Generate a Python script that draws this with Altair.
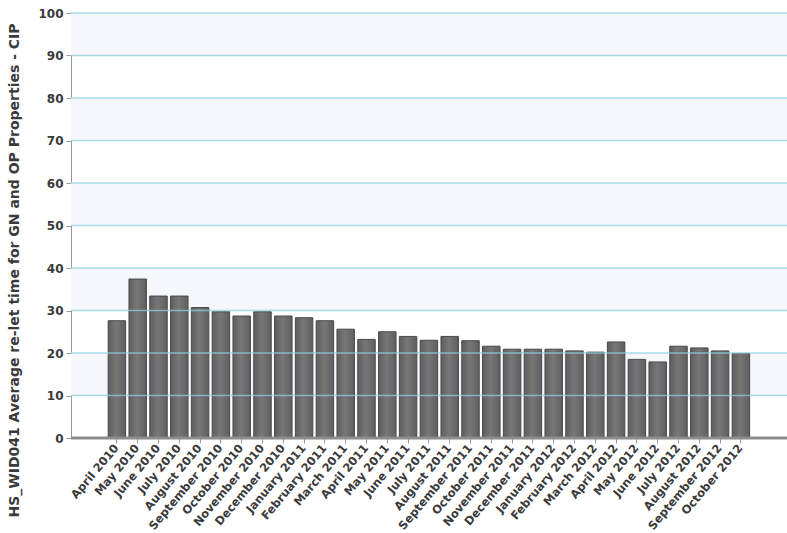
import altair as alt
import pandas as pd

# Monthly average re-let time (days), April 2010 - October 2012
months = [
    "April 2010", "May 2010", "June 2010", "July 2010", "August 2010",
    "September 2010", "October 2010", "November 2010", "December 2010",
    "January 2011", "February 2011", "March 2011", "April 2011", "May 2011",
    "June 2011", "July 2011", "August 2011", "September 2011", "October 2011",
    "November 2011", "December 2011", "January 2012", "February 2012",
    "March 2012", "April 2012", "May 2012", "June 2012", "July 2012",
    "August 2012", "September 2012", "October 2012",
]
relet_days = [
    27.6, 37.4, 33.4, 33.4, 30.7, 29.7, 28.7, 29.7, 28.7, 28.3, 27.6,
    25.6, 23.2, 25.0, 23.9, 23.0, 23.9, 22.9, 21.6, 20.9, 20.9, 20.9,
    20.5, 20.2, 22.6, 18.5, 17.9, 21.6, 21.2, 20.5, 19.9,
]
y_ticks = [0, 10, 20, 30, 40, 50, 60, 70, 80, 90, 100]

bars_df = pd.DataFrame({"month": months, "days": relet_days})
# alternate shaded bands: 10-20, 30-40, 50-60, 70-80, 90-100
bands_df = pd.DataFrame(
    [{"lo": lo, "hi": hi} for lo, hi in zip(y_ticks[:-1], y_ticks[1:]) if (lo // 10) % 2 == 1]
)
grid_df = pd.DataFrame({"v": y_ticks[1:]})

FONT = "DejaVu Sans"
PLOT_W = 716
y_scale = alt.Scale(domain=[0, 100], nice=False)

bands = alt.Chart(bands_df).mark_rect(color="#f5f7fd").encode(
    y=alt.Y("lo:Q", scale=y_scale),
    y2="hi:Q",
    x=alt.value(0),
    x2=alt.value(PLOT_W),
)

bars = alt.Chart(bars_df).mark_bar(
    color=alt.Gradient(
        gradient="linear",
        x1=0, x2=1, y1=0, y2=0,
        stops=[
            alt.GradientStop(color="#5e5e5e", offset=0),
            alt.GradientStop(color="#777777", offset=0.45),
            alt.GradientStop(color="#5f5f5f", offset=1),
        ],
    ),
    stroke="#4a4a4a",
    strokeWidth=1,
).encode(
    x=alt.X(
        "month:N",
        sort=months,
        # bars occupy the middle of the wide plot, leaving empty margins both sides
        scale=alt.Scale(paddingInner=0.16, paddingOuter=0.08, range=[35.5, 680.3]),
        axis=alt.Axis(
            title=None,
            labelAngle=-50,
            labelAlign="right",
            labelBaseline="middle",
            labelFont=FONT,
            labelFontWeight="bold",
            labelFontSize=11.5,
            labelColor="#3a3a3a",
            labelPadding=3,
            domain=False,
            tickColor="#9a9a9a",
            tickSize=5,
            labelOverlap=False,
        ),
    ),
    y=alt.Y(
        "days:Q",
        scale=y_scale,
        axis=alt.Axis(
            values=y_ticks,
            grid=False,
            title="HS_WID041 Average re-let time for GN and OP Properties - CIP",
            titleFont=FONT,
            titleFontWeight="bold",
            titleFontSize=14,
            titleColor="#3a3a3a",
            titleX=-50,
            titleY=257,
            titleAngle=270,
            labelFont=FONT,
            labelFontWeight="bold",
            labelFontSize=12,
            labelColor="#3a3a3a",
            labelPadding=3,
            domainColor="#9a9a9a",
            tickColor="#9a9a9a",
            tickSize=5,
        ),
    ),
)

grid = alt.Chart(grid_df).mark_rule(color="#8ed2df", strokeWidth=1.5, opacity=0.75).encode(
    y=alt.Y("v:Q", scale=y_scale),
)

# thick grey baseline across the full plot width
baseline = alt.Chart(pd.DataFrame({"v": [0]})).mark_rule(color="#8c8c8c", strokeWidth=3).encode(
    y=alt.Y("v:Q", scale=y_scale),
    x=alt.value(0),
    x2=alt.value(PLOT_W),
)

chart = (
    alt.layer(bands, bars, grid, baseline)
    .properties(
        width=PLOT_W,
        height=425,
        autosize=alt.AutoSizeParams(type="none"),
        padding={"left": 71, "top": 13, "right": 0, "bottom": 95},
        background="white",
    )
    .configure_view(stroke=None)
)

chart.save("out.html", embed_options={"renderer": "svg", "actions": False})
